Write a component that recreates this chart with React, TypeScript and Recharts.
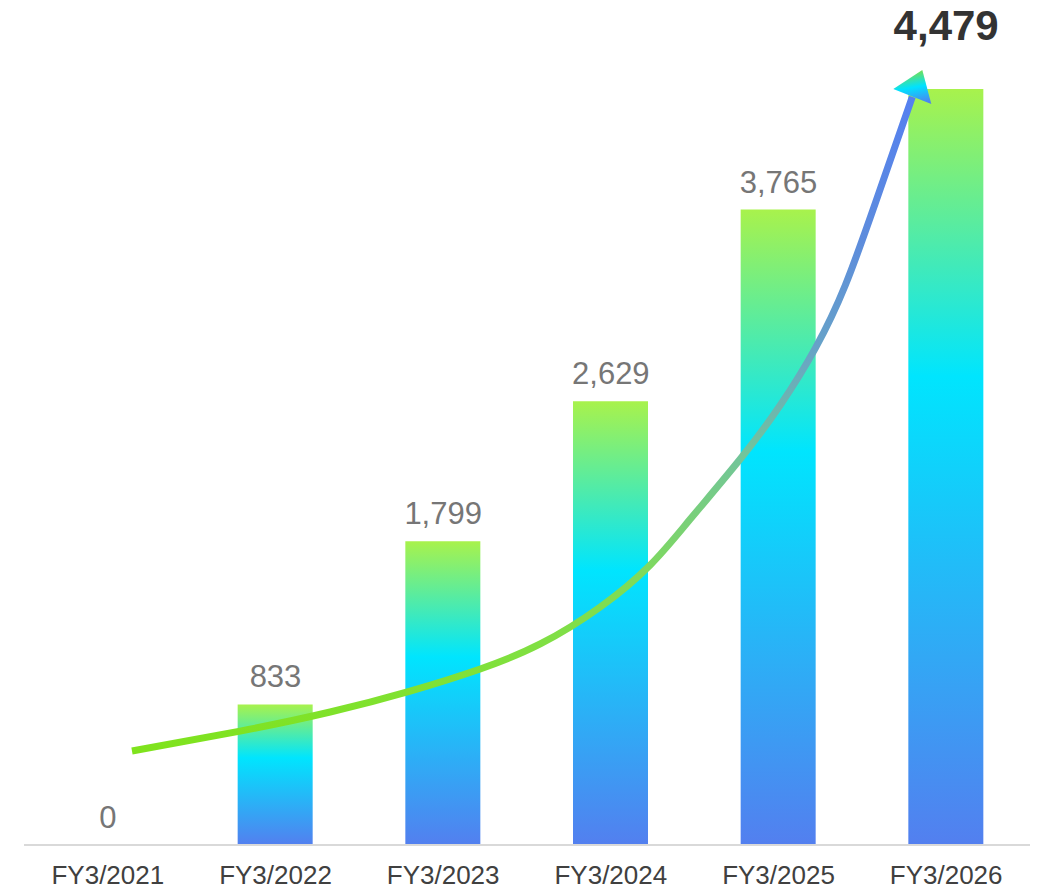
import React from 'react';
import { ComposedChart, Bar, Line, XAxis, YAxis, LabelList } from 'recharts';

const categories = ['FY3/2021', 'FY3/2022', 'FY3/2023', 'FY3/2024', 'FY3/2025', 'FY3/2026'];
const values = [0, 833, 1799, 2629, 3765, 4479];

// trend arrow path (position along category axis in category units, value)
const trendX = [0.644, 1.289, 1.826, 2.303, 2.721, 3.079, 3.437, 3.735, 3.974, 4.272, 4.511, 4.72, 4.899, 5.078, 5.298];
const trendY = [557, 675, 788, 912, 1043, 1191, 1410, 1659, 1931, 2287, 2607, 2944, 3318, 3804, 4432];

const data = categories.map((c, i) => ({ cat: c, value: values[i] }));
const trendData = trendX.map((x, i) => ({ x, y: trendY[i] }));

const FONT = '"Liberation Sans", Arial, sans-serif';
const highlightValue = values[values.length - 1];

const ValueLabel = (props: any) => {
  const { x, y, value } = props;
  const isLast = Number(value) === highlightValue;
  const text = Number(value).toLocaleString('en-US');
  return (
    <text
      x={x}
      y={y}
      dy={isLast ? -49 : -17}
      textAnchor="middle"
      fontFamily={FONT}
      fontSize={isLast ? 42 : 31}
      fontWeight={isLast ? 'bold' : 'normal'}
      fill={isLast ? '#333333' : '#767676'}
    >
      {text}
    </text>
  );
};

const Tick = (props: any) => {
  const { x, y, payload } = props;
  return (
    <text x={x} y={y} dy={31} textAnchor="middle" fontFamily={FONT} fontSize={26} fill="#404040">
      {payload.value}
    </text>
  );
};

const ArrowDot = (props: any) => {
  const { cx, cy, index } = props;
  if (index !== trendData.length - 1) return <g key={`d${index}`} />;
  const pts = [
    [cx + 10, cy - 27],
    [cx + 19, cy + 7],
    [cx - 19, cy - 8],
  ]
    .map((p) => p.join(','))
    .join(' ');
  return <polygon key={`d${index}`} points={pts} fill="url(#arrowGrad)" />;
};

export default function App() {
  return (
    <div style={{ position: 'absolute', left: 0, top: 0, width: 1040, height: 889, background: '#fff' }}>
      <ComposedChart
        width={1040}
        height={889}
        data={data}
        margin={{ top: 89, right: 10, bottom: 4, left: 24 }}
      >
        <defs>
          <linearGradient id="barGrad" x1="0" y1="0" x2="0" y2="1">
            <stop offset="0" stopColor="#a8f24c" />
            <stop offset="0.38" stopColor="#00e5fe" />
            <stop offset="1" stopColor="#537fef" />
          </linearGradient>
          <linearGradient id="lineGrad" x1="0" y1="1" x2="0" y2="0">
            <stop offset="0" stopColor="#7fe31c" />
            <stop offset="0.15" stopColor="#80e040" />
            <stop offset="0.25" stopColor="#80dc55" />
            <stop offset="0.45" stopColor="#72c59a" />
            <stop offset="0.62" stopColor="#67a2c8" />
            <stop offset="0.78" stopColor="#5d8cdc" />
            <stop offset="1" stopColor="#5580f0" />
          </linearGradient>
          <linearGradient id="arrowGrad" x1="0.7" y1="1" x2="0.5" y2="0">
            <stop offset="0" stopColor="#4f80f0" />
            <stop offset="0.5" stopColor="#00e2ff" />
            <stop offset="1" stopColor="#7fe040" />
          </linearGradient>
        </defs>
        <XAxis
          dataKey="cat"
          xAxisId="cat"
          height={40}
          axisLine={{ stroke: '#d9d9d9', strokeWidth: 2 }}
          tickLine={false}
          tick={<Tick />}
          interval={0}
        />
        <XAxis xAxisId="t" dataKey="x" type="number" domain={[0, 6]} hide />
        <YAxis domain={[0, 4479]} hide />
        <Bar
          dataKey="value"
          xAxisId="cat"
          barSize={75}
          fill="url(#barGrad)"
          isAnimationActive={false}
        />
        <Line
          dataKey="value"
          xAxisId="cat"
          stroke="none"
          dot={false}
          activeDot={false}
          isAnimationActive={false}
          legendType="none"
        >
          <LabelList dataKey="value" content={<ValueLabel />} />
        </Line>
        <Line
          data={trendData}
          xAxisId="t"
          dataKey="y"
          type="natural"
          stroke="url(#lineGrad)"
          strokeWidth={7}
          dot={ArrowDot}
          activeDot={false}
          isAnimationActive={false}
        />
      </ComposedChart>
    </div>
  );
}
